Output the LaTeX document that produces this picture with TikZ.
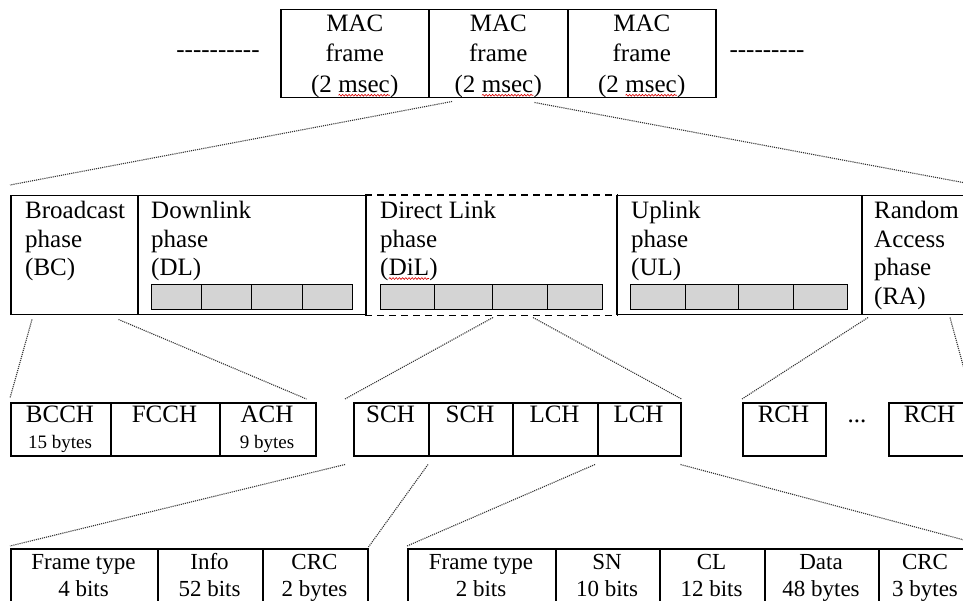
\documentclass[tikz,border=0pt]{standalone}
\usepackage{fontspec}
\setmainfont{Liberation Serif}
\usetikzlibrary{calc,decorations.pathmorphing}
% red wavy spell-check underline under a word
\newcommand\spellmark[1]{\tikz[baseline=(w.base)]{%
  \node[inner sep=0pt, outer sep=0pt, anchor=base, draw=none, fill=none] (w) {#1};
  \draw[red!85!black, line width=0.6pt, decorate,
        decoration={snake, amplitude=0.9pt, segment length=3.2pt}]
    ([yshift=-3pt]w.base west) -- ([yshift=-3pt]w.base east);}}
% a single hyphen kept out of the TeX ligature mapping
\newcommand\hy{\mbox{-}}

\begin{document}
\begin{tikzpicture}[x=1pt,y=-1pt,
  box/.style={draw, line width=1.5pt, inner sep=0pt, anchor=north west},
  slot/.style={box, fill=black!17, line width=1.2pt},
  link/.style={densely dotted, line width=1.1pt, black!80},
  big/.style={font=\fontsize{25}{28.5}\selectfont, inner sep=0pt},
  small/.style={font=\fontsize{19}{22}\selectfont, inner sep=0pt},
  fld/.style={font=\fontsize{23}{27}\selectfont, inner sep=0pt}]
\useasboundingbox (0,0) rectangle (963,601);
\clip (0,0) rectangle (963,601);

% ---- MAC frames ----
\node[box, minimum width=148pt, minimum height=88pt] (mac1) at (280,9) {};
\node[box, minimum width=139pt, minimum height=88pt] (mac2) at (428,9) {};
\node[box, minimum width=148pt, minimum height=88pt] (mac3) at (567,9) {};
\foreach \m in {mac1,mac2,mac3}
  \node[big, font=\fontsize{25}{30.5}\selectfont, align=center, anchor=north]
    (\m txt) at ([yshift=-5.5pt]\m.north) {MAC\\frame\\(2 \spellmark{msec})};
\node[big, anchor=base] (dashl) at (218,58) {\hy\hy\hy\hy\hy\hy\hy\hy\hy\hy};
\node[big, anchor=base] (dashr) at (767,58) {\hy\hy\hy\hy\hy\hy\hy\hy\hy};

% ---- phases ----
\node[box, minimum width=127pt, minimum height=119pt] (bc) at (10,195) {};
\node[box, minimum width=228pt, minimum height=119pt] (dl) at (137,195) {};
\node[box, draw=none, minimum width=251pt, minimum height=119pt] (dil) at (365,195) {};
\node[box, minimum width=245pt, minimum height=119pt] (ul) at (616,195) {};
\node[box, minimum width=130pt, minimum height=119pt] (ra) at (861,195) {};
\draw[line width=1.5pt, dash pattern=on 7pt off 5pt] (dil.north west) -- (dil.north east);
\draw[line width=1.5pt, dash pattern=on 7pt off 5pt] (dil.south west) -- (dil.south east);

\node[big, align=left, anchor=north west] (bctxt) at (25,201) {Broadcast\\phase\\(BC)};
\node[big, align=left, anchor=north west] (dltxt) at (151,201) {Downlink\\phase\\(DL)};
\node[big, align=left, anchor=north west] (diltxt) at (380,201) {Direct Link\\phase\\(\spellmark{DiL})};
\node[big, align=left, anchor=north west] (ultxt) at (631,201) {Uplink\\phase\\(UL)};
\node[big, align=left, anchor=north west] (ratxt) at (874,201) {Random\\Access\\phase\\(RA)};

% slot rows inside DL, DiL and UL
\foreach \x/\w [count=\i] in {151/50,201/50,251/51,302/50}
  \node[slot, minimum width=\w pt, minimum height=25pt] (dls\i) at (\x,284) {};
\foreach \x/\w [count=\i] in {380/54,434/58,492/55,547/55}
  \node[slot, minimum width=\w pt, minimum height=25pt] (dils\i) at (\x,284) {};
\foreach \x/\w [count=\i] in {630/55,685/53,738/55,793/54}
  \node[slot, minimum width=\w pt, minimum height=25pt] (uls\i) at (\x,284) {};

% ---- channels ----
\foreach \n/\x/\w/\t in {bcch/10/100/BCCH, fcch/110/109/FCCH, ach/219/96/ACH,
    sch1/353/75/SCH, sch2/428/84/SCH, lch1/512/85/LCH, lch2/597/83/LCH,
    rch1/742/83/RCH, rch2/888/83/RCH} {
  \node[box, minimum width=\w pt, minimum height=53pt] (\n) at (\x,402) {};
  \node[big, anchor=base] (\n txt) at (\x+\w/2,422) {\t};
}
\node[small, anchor=base] (bcchsz) at (60,448) {15 bytes};
\node[small, anchor=base] (achsz) at (267,448) {9 bytes};
\node[big, anchor=base] (more) at (857,422) {...};

% ---- frame fields ----
\foreach \n/\x/\w/\a/\b in {ft1/10/147/Frame type/4 bits, info/157/105/Info/52 bits,
    crc1/262/105/CRC/2 bytes, ft2/407/148/Frame type/2 bits, sn/555/104/SN/10 bits,
    cl/659/105/CL/12 bits, data/764/114/Data/48 bytes, crc2/878/94/CRC/3 bytes} {
  \node[box, minimum width=\w pt, minimum height=70pt] (\n) at (\x,548) {};
  \node[fld, anchor=base] (\n a) at (\x+\w/2,569) {\a};
  \node[fld, anchor=base] (\n b) at (\x+\w/2,596) {\b};
}

% ---- dotted expansion lines ----
\draw[link] ([xshift=24pt,yshift=-3pt]mac2.south west) -- ([yshift=10pt]bc.north west);
\draw[link] ([xshift=-34pt,yshift=-4pt]mac2.south east) -- ([yshift=7pt]ra.north east);
\draw[link] ([xshift=22pt,yshift=-4pt]bc.south west) -- ([yshift=4pt]bcch.north west);
\draw[link] ([xshift=-20pt,yshift=-4pt]bc.south east) -- ([xshift=-10pt,yshift=3pt]ach.north east);
\draw[link] ([xshift=128pt,yshift=-2pt]dil.south west) -- ([xshift=-8pt,yshift=3pt]sch1.north west);
\draw[link] ([xshift=168pt,yshift=-2pt]dil.south west) -- ([yshift=3pt]lch2.north east);
\draw[link] ([xshift=7pt,yshift=-2pt]ra.south west) -- ([yshift=3pt]rch1.north west);
\draw[link] ([xshift=89pt,yshift=-2pt]ra.south west) -- ([yshift=2pt]rch2.north east);
\draw[link] ([xshift=-8pt,yshift=-8pt]sch1.south west) -- ([yshift=2pt]ft1.north west);
\draw[link] ([yshift=-8pt]sch2.south west) -- ([yshift=1pt]crc1.north east);
\draw[link] ([xshift=-2pt,yshift=-8pt]lch2.south west) -- ([yshift=2pt]ft2.north west);
\draw[link] ([xshift=-1pt,yshift=-8pt]lch2.south east) -- ([yshift=5.5pt]crc2.north east);
\end{tikzpicture}
\end{document}
